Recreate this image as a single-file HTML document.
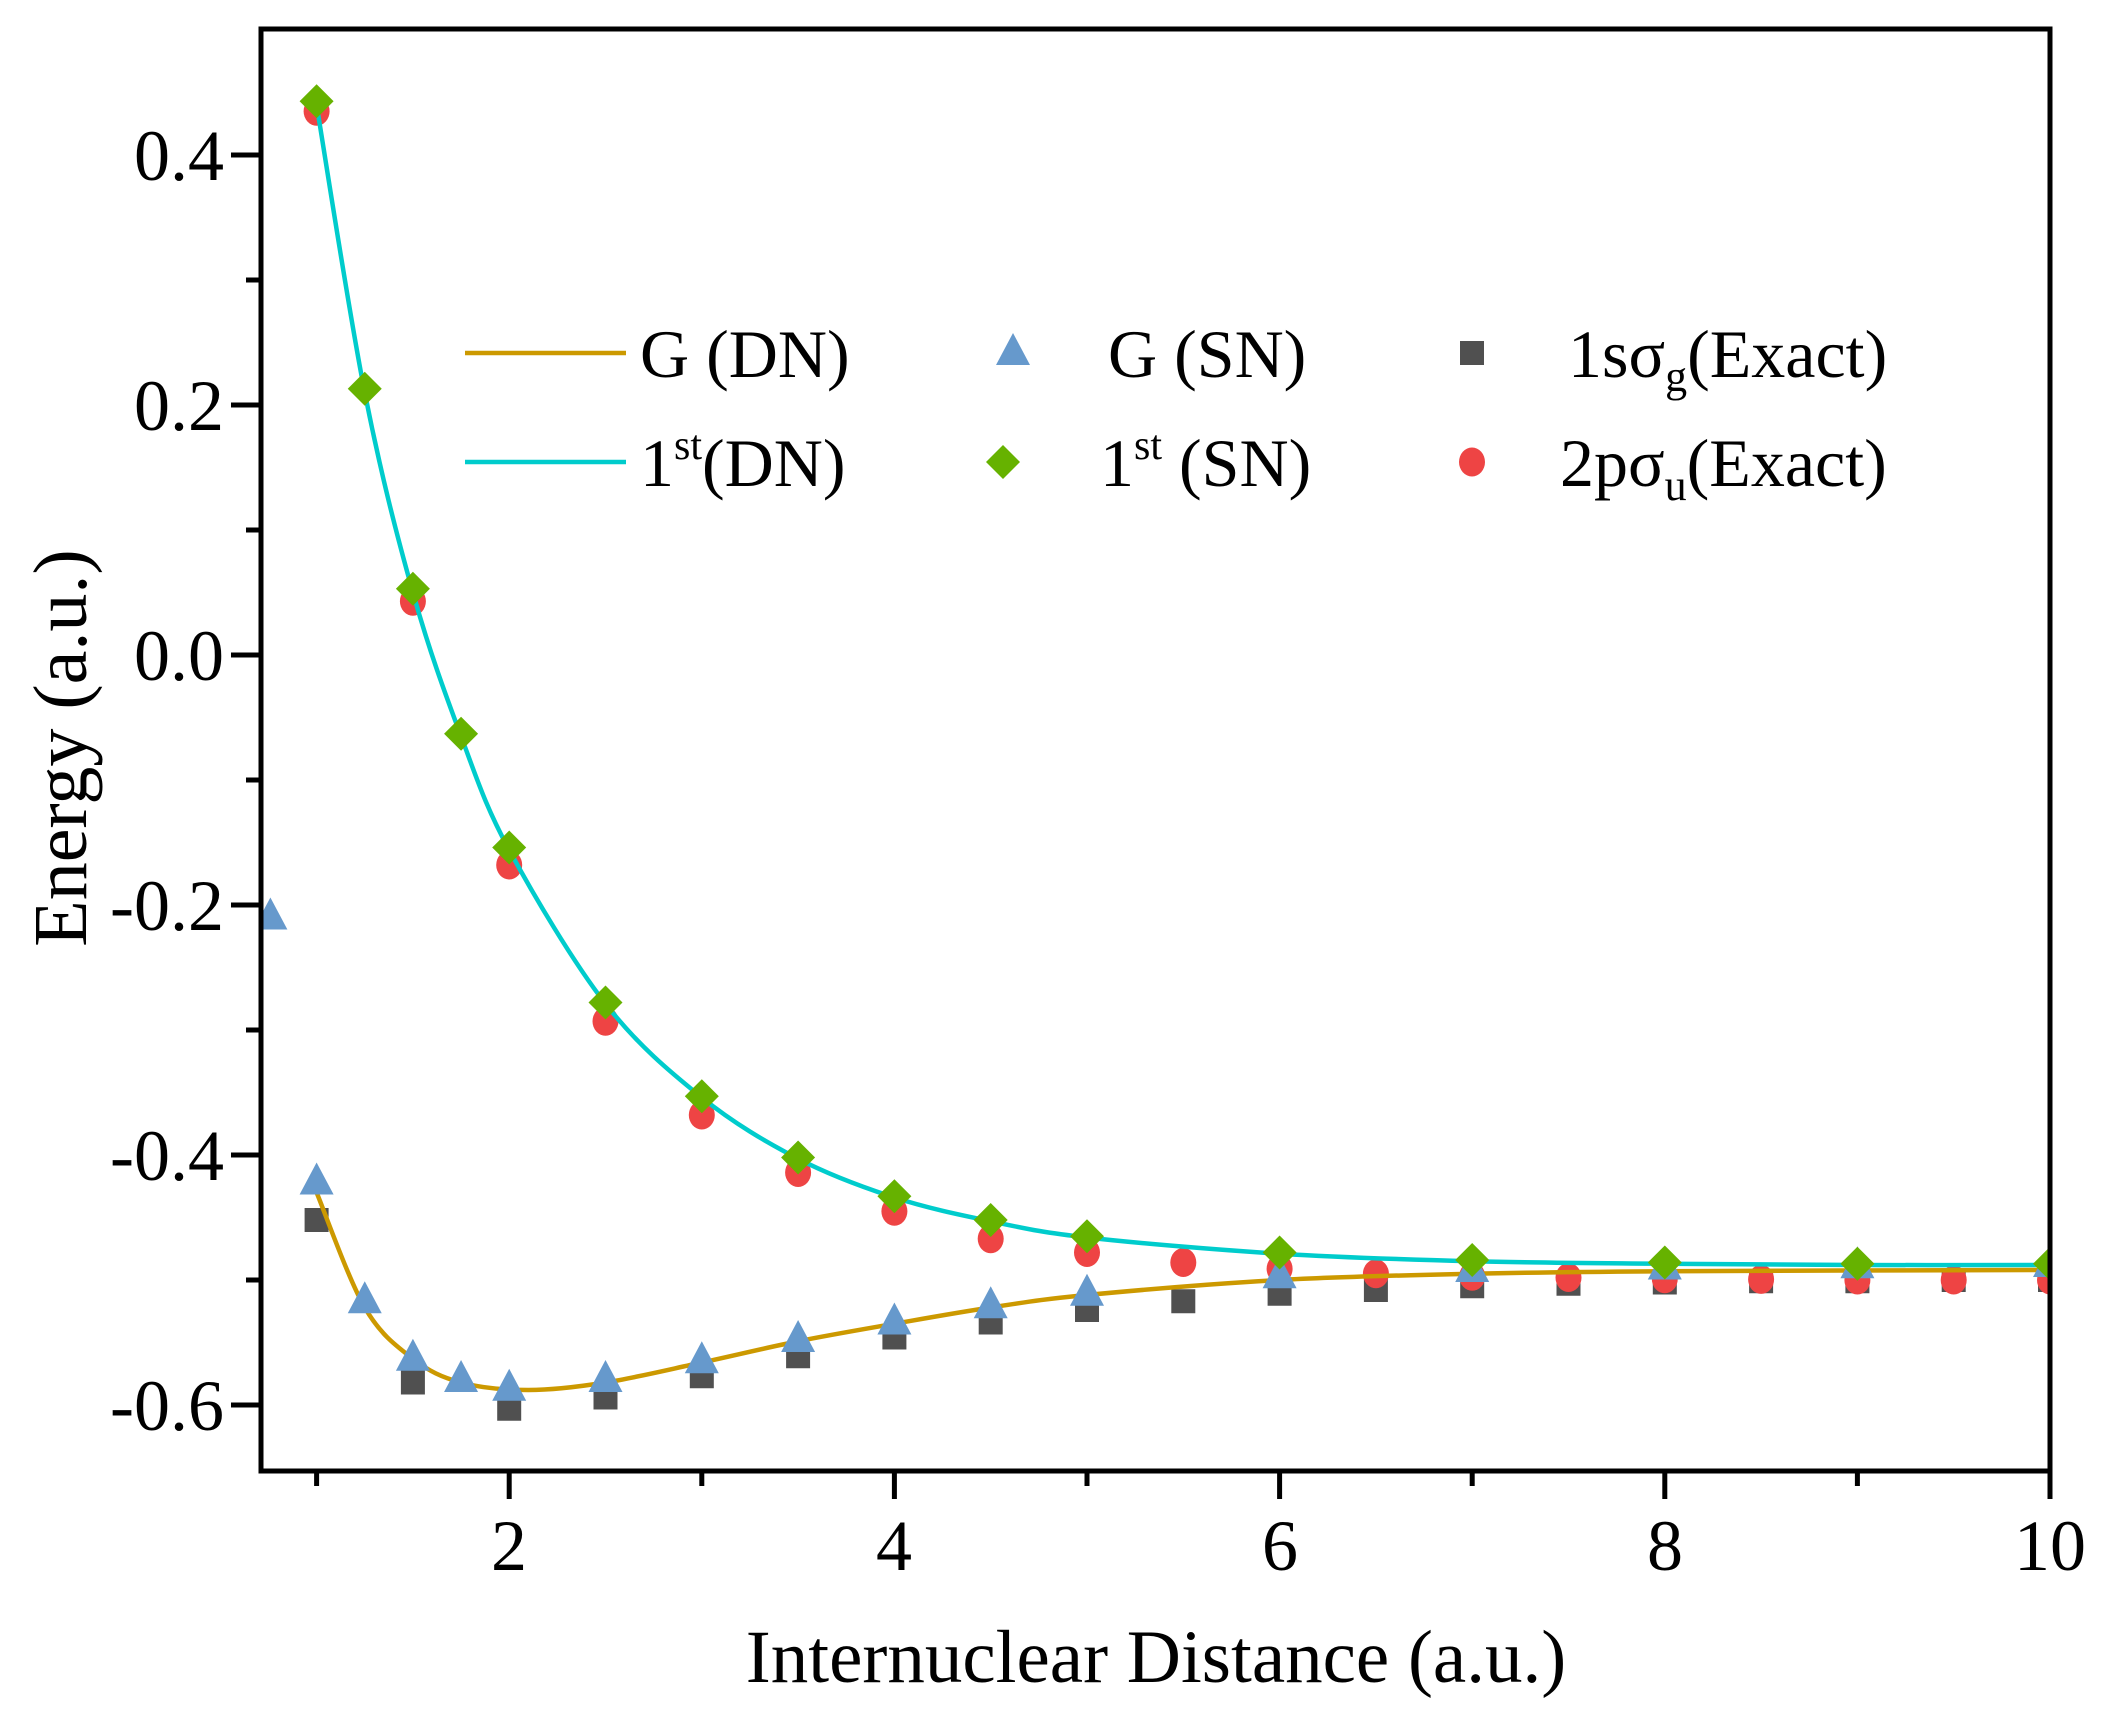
<!DOCTYPE html>
<html><head><meta charset="utf-8"><style>
html,body{margin:0;padding:0;background:#fff}
svg{display:block}
text{font-family:"Liberation Serif","DejaVu Serif",serif;fill:#000}
</style></head><body>
<svg id="s" width="2112" height="1715" viewBox="0 0 2112 1715" xmlns="http://www.w3.org/2000/svg">
<g id="plot"></g>
<rect x="261" y="29" width="1789" height="1442" fill="none" stroke="#000" stroke-width="5"/>
<g id="ticks" stroke="#000" stroke-width="5"></g>
<g font-size="72" text-anchor="end">
<text x="224" y="180">0.4</text>
<text x="224" y="430">0.2</text>
<text x="224" y="680">0.0</text>
<text x="224" y="930">-0.2</text>
<text x="224" y="1180">-0.4</text>
<text x="224" y="1430">-0.6</text>
</g>
<g font-size="72" text-anchor="middle">
<text x="509" y="1570">2</text>
<text x="894" y="1570">4</text>
<text x="1280" y="1570">6</text>
<text x="1665" y="1570">8</text>
<text x="2050" y="1570">10</text>
</g>
<text x="1156" y="1682" font-size="75" text-anchor="middle">Internuclear Distance (a.u.)</text>
<text transform="translate(86,748) rotate(-90)" font-size="76" text-anchor="middle">Energy (a.u.)</text>
<line x1="465" y1="353" x2="626" y2="353" stroke="#CC9900" stroke-width="4.5"/>
<line x1="465" y1="462" x2="626" y2="462" stroke="#00CCCC" stroke-width="4.5"/>
<g font-size="68">
<text x="640" y="377">G (DN)</text>
<text x="640" y="486">1<tspan dy="-27" font-size="42">st</tspan><tspan dy="27">(DN)</tspan></text>
<text x="1108" y="377">G (SN)</text>
<text x="1100" y="486">1<tspan dy="-27" font-size="42">st</tspan><tspan dy="27"> (SN)</tspan></text>
<text x="1568" y="377">1sσ<tspan dy="14" font-size="44">g</tspan><tspan dy="-14">(Exact)</tspan></text>
<text x="1560" y="486">2pσ<tspan dy="14" font-size="44">u</tspan><tspan dy="-14">(Exact)</tspan></text>
</g>
<g id="leg"></g>
</svg>
<script>
const NS="http://www.w3.org/2000/svg";
const X=x=>124+192.6*x, Y=v=>655-1250*v;
const plot=document.getElementById('plot');
function el(t,a,p){const e=document.createElementNS(NS,t);for(const k in a)e.setAttribute(k,a[k]);(p||plot).appendChild(e);return e;}
const tk=document.getElementById('ticks');
[0.4,0.2,0,-0.2,-0.4,-0.6].forEach(v=>el('line',{x1:231,x2:261,y1:Y(v),y2:Y(v)},tk));
[0.3,0.1,-0.1,-0.3,-0.5].forEach(v=>el('line',{x1:246,x2:261,y1:Y(v),y2:Y(v)},tk));
[2,4,6,8,10].forEach(x=>el('line',{x1:X(x),x2:X(x),y1:1471,y2:1499},tk));
[1,3,5,7,9].forEach(x=>el('line',{x1:X(x),x2:X(x),y1:1471,y2:1486},tk));
const tri=[[0.76,-0.21],[1,-0.422],[1.25,-0.517],[1.5,-0.563],[1.75,-0.58],[2,-0.587],[2.5,-0.58],[3,-0.565],[3.5,-0.548],[4,-0.534],[4.5,-0.521],[5,-0.511],[6,-0.497],[7,-0.492],[8,-0.49],[9,-0.489],[10,-0.488]];
const sq=[[1,-0.452],[1.5,-0.582],[2,-0.603],[2.5,-0.594],[3,-0.577],[3.5,-0.561],[4,-0.546],[4.5,-0.534],[5,-0.524],[5.5,-0.517],[6,-0.511],[6.5,-0.508],[7,-0.505],[7.5,-0.503],[8,-0.502],[8.5,-0.501],[9,-0.501],[9.5,-0.5],[10,-0.5]];
const red=[[1,0.435],[1.5,0.043],[2,-0.168],[2.5,-0.293],[3,-0.368],[3.5,-0.414],[4,-0.445],[4.5,-0.467],[5,-0.478],[5.5,-0.486],[6,-0.491],[6.5,-0.495],[7,-0.497],[7.5,-0.498],[8,-0.499],[8.5,-0.4995],[9,-0.5],[9.5,-0.5],[10,-0.5]];
const dia=[[1,0.443],[1.25,0.213],[1.5,0.053],[1.75,-0.063],[2,-0.154],[2.5,-0.278],[3,-0.353],[3.5,-0.402],[4,-0.433],[4.5,-0.452],[5,-0.465],[6,-0.478],[7,-0.484],[8,-0.486],[9,-0.487],[10,-0.487]];
const gold=[[1,-0.43],[1.25,-0.522],[1.5,-0.563],[1.75,-0.582],[2.1,-0.588],[2.5,-0.582],[3,-0.566],[3.5,-0.549],[4,-0.535],[4.5,-0.522],[5,-0.512],[6,-0.5],[7,-0.495],[8,-0.493],[10,-0.492]];
const cyan=[[1,0.44],[1.25,0.21],[1.5,0.05],[1.75,-0.065],[2,-0.156],[2.5,-0.279],[3,-0.354],[3.5,-0.403],[4,-0.434],[4.5,-0.453],[5,-0.466],[6,-0.479],[7,-0.485],[8,-0.487],[9,-0.488],[10,-0.488]];
function curve(p){p=p.map(q=>[X(q[0]),Y(q[1])]);let d='M'+p[0][0]+','+p[0][1];
for(let i=0;i<p.length-1;i++){const p0=p[i-1]||p[i],p1=p[i],p2=p[i+1],p3=p[i+2]||p2;
d+=` C${p1[0]+(p2[0]-p0[0])/6},${p1[1]+(p2[1]-p0[1])/6} ${p2[0]-(p3[0]-p1[0])/6},${p2[1]-(p3[1]-p1[1])/6} ${p2[0]},${p2[1]}`;}return d;}
function square(cx,cy,g){el('rect',{x:cx-12,y:cy-12,width:24,height:24,fill:'#505050'},g);}
function circ(cx,cy,g){el('ellipse',{cx,cy,rx:13,ry:14.5,fill:'#EE4444'},g);}
function triangle(cx,cy,g){el('polygon',{points:`${cx},${cy-20} ${cx+17},${cy+12} ${cx-17},${cy+12}`,fill:'#6699CC'},g);}
function diamond(cx,cy,g){el('polygon',{points:`${cx},${cy-17} ${cx+17},${cy} ${cx},${cy+17} ${cx-17},${cy}`,fill:'#66B200'},g);}
const clip=el('clipPath',{id:'c'});el('rect',{x:261,y:29,width:1789,height:1442},clip);
const g=el('g',{'clip-path':'url(#c)'});
sq.forEach(p=>square(X(p[0]),Y(p[1]),g));
red.forEach(p=>circ(X(p[0]),Y(p[1]),g));
el('path',{d:curve(gold),fill:'none',stroke:'#CC9900','stroke-width':4.5},g);
el('path',{d:curve(cyan),fill:'none',stroke:'#00CCCC','stroke-width':4.5},g);
tri.forEach(p=>triangle(X(p[0]),Y(p[1]),g));
dia.forEach(p=>diamond(X(p[0]),Y(p[1]),g));
const lg=document.getElementById('leg');
triangle(1013,353,lg);diamond(1003,462,lg);square(1472,353,lg);circ(1472,462,lg);
</script>
</body></html>
